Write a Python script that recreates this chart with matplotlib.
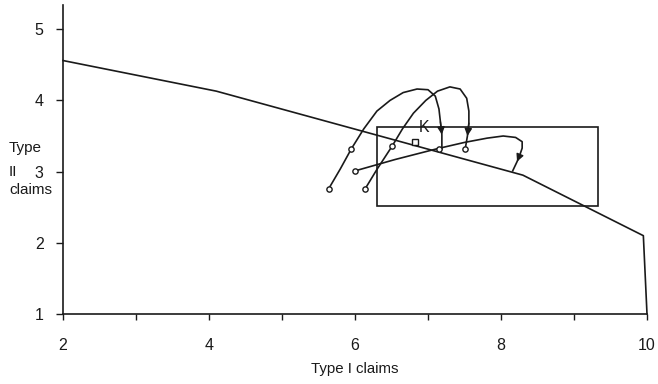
import matplotlib.pyplot as plt
from matplotlib.patches import Rectangle

plt.rcParams['font.family'] = ['Liberation Sans', 'DejaVu Sans']

# Frontier of feasible claim pairs
frontier_x = [2.0, 4.1, 8.3, 9.95, 10.0]
frontier_y = [4.56, 4.13, 2.95, 2.10, 1.0]

# Claim trajectories (start -> end); the arrow sits at arrow_at index
traj_a_x = [5.64, 5.80, 5.95, 6.12, 6.30, 6.48, 6.66, 6.85, 7.00, 7.10, 7.15, 7.17, 7.19, 7.19]
traj_a_y = [2.76, 3.04, 3.32, 3.60, 3.85, 4.00, 4.11, 4.16, 4.15, 4.06, 3.88, 3.70, 3.52, 3.32]
traj_b_x = [6.14, 6.30, 6.51, 6.65, 6.80, 6.97, 7.13, 7.30, 7.44, 7.53, 7.56, 7.56, 7.54, 7.51]
traj_b_y = [2.76, 3.03, 3.36, 3.60, 3.82, 4.00, 4.13, 4.19, 4.16, 4.03, 3.85, 3.68, 3.50, 3.32]
traj_c_x = [6.00, 6.55, 7.12, 7.50, 7.81, 8.03, 8.20, 8.29, 8.29, 8.26, 8.22, 8.16]
traj_c_y = [3.01, 3.17, 3.32, 3.41, 3.47, 3.50, 3.48, 3.42, 3.33, 3.24, 3.14, 3.01]
arrow_at = {'a': 12, 'b': 12, 'c': 10}

# Circled points along the paths
dot_x = [5.64, 5.95, 6.14, 6.51, 6.00, 7.15, 7.51]
dot_y = [2.76, 3.32, 2.76, 3.36, 3.01, 3.32, 3.32]

# Point K and the surrounding box
k_x, k_y = 6.82, 3.41
box_x0, box_y0, box_x1, box_y1 = 6.30, 2.51, 9.33, 3.62

x_ticks = [2, 3, 4, 5, 6, 7, 8, 9, 10]
x_tick_labels = ['2', '', '4', '', '6', '', '8', '', '10']
y_ticks = [1, 2, 3, 4, 5]
y_label_lines = ['Type', 'II', 'claims']

ink = '#1a1a1a'

fig = plt.figure(figsize=(6.58, 3.84), dpi=100)
ax = fig.add_axes([63 / 658, 70 / 384, 584 / 658, 309 / 384])

ax.plot(frontier_x, frontier_y, color=ink, lw=1.2, clip_on=False)

for key, xs, ys in (('a', traj_a_x, traj_a_y), ('b', traj_b_x, traj_b_y), ('c', traj_c_x, traj_c_y)):
    ax.plot(xs, ys, color=ink, lw=1.2)
    i = arrow_at[key]
    ax.annotate('', xy=(xs[i], ys[i]), xytext=(xs[i - 1], ys[i - 1]),
                arrowprops=dict(arrowstyle='-|>', color=ink, lw=1.0, mutation_scale=11,
                                shrinkA=0, shrinkB=0))

ax.plot(dot_x, dot_y, 'o', ms=3.8, mfc='white', mec=ink, mew=1.0, ls='none')
ax.plot([k_x], [k_y], 's', ms=5, mfc='white', mec=ink, mew=1.0)
ax.text(k_x + 0.06, k_y + 0.1, 'K', fontsize=11.5, color=ink, ha='left', va='bottom')

ax.add_patch(Rectangle((box_x0, box_y0), box_x1 - box_x0, box_y1 - box_y0,
                       fill=False, ec=ink, lw=1.2))

ax.set_xlim(2, 10)
ax.set_ylim(1, 5.34)
ax.set_xticks(x_ticks)
ax.set_xticklabels(x_tick_labels)
ax.set_yticks(y_ticks)
ax.spines['top'].set_visible(False)
ax.spines['right'].set_visible(False)
for s in ('left', 'bottom'):
    ax.spines[s].set_color(ink)
    ax.spines[s].set_linewidth(1.2)
ax.tick_params(axis='x', direction='out', length=4, width=1, pad=13, labelsize=11.5, colors=ink)
ax.tick_params(axis='y', direction='out', length=5, width=1, pad=9, labelsize=11.5, colors=ink)

ax.set_xlabel('Type I claims', fontsize=10.8, color=ink, labelpad=7)

# y axis title stacked in three rows, the middle one level with the "3" tick
for row, line in zip([148, 172, 190], y_label_lines):
    fig.text(9 / 658, 1 - row / 384, line, fontsize=11, color=ink, ha='left', va='center')

fig.savefig('out.png', dpi=100)
